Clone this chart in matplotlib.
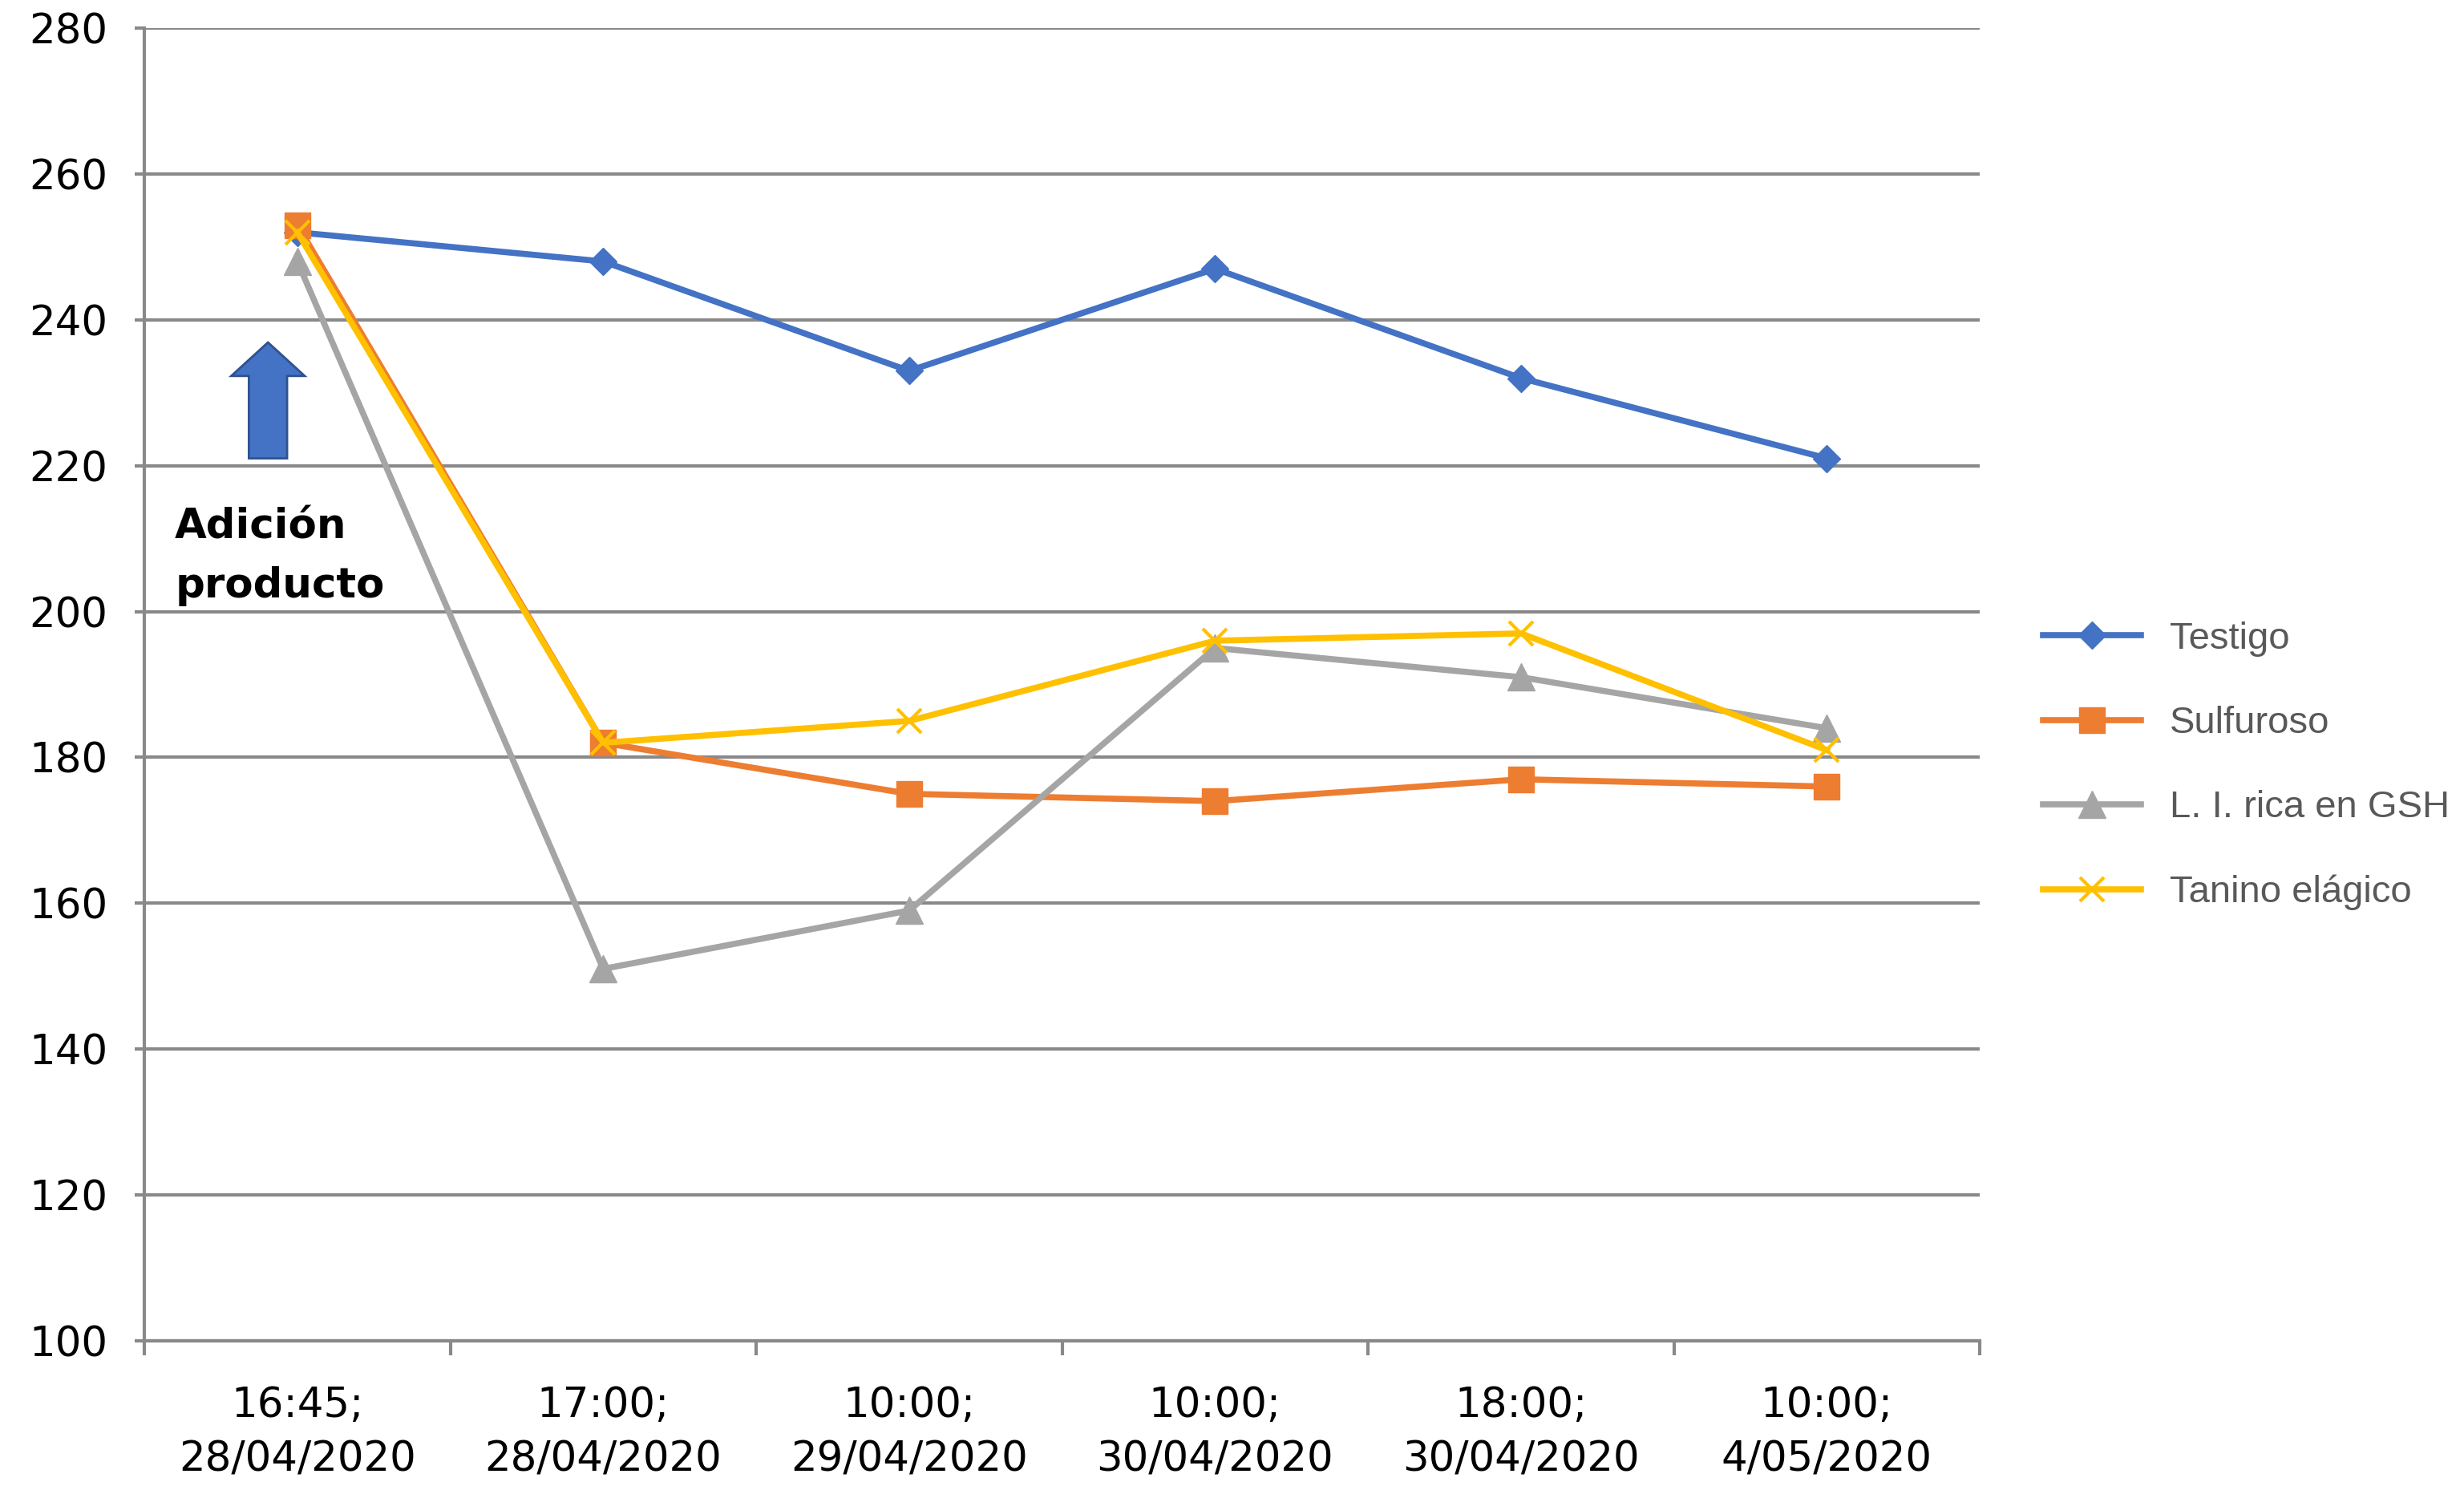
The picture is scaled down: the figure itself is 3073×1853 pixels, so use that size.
import numpy as np
import matplotlib
matplotlib.use("Agg")
import matplotlib.pyplot as plt
from matplotlib.patches import FancyArrow

# muestreos
fechas = ["16:45;\n28/04/2020", "17:00;\n28/04/2020", "10:00;\n29/04/2020",
          "10:00;\n30/04/2020", "18:00;\n30/04/2020", "10:00;\n4/05/2020"]

testigo = [252, 248, 233, 247, 232, 221]
sulfuroso = [253, 182, 175, 174, 177, 176]
li_gsh = [248, 151, 159, 195, 191, 184]
tanino = [252, 182, 185, 196, 197, 181]

series = [
    ("Testigo", testigo, "#4472C4", "D", 17),
    ("Sulfuroso", sulfuroso, "#ED7D31", "s", 23),
    ("L. I. rica en GSH", li_gsh, "#A5A5A5", "^", 24),
    ("Tanino elágico", tanino, "#FFC000", "x", 22),
]

gris = "#898989"

fig = plt.figure(figsize=(30.73, 18.53), dpi=100)
ax = fig.add_axes([0.0586, 0.0977, 0.7449, 0.8834])

x = np.arange(len(fechas))
for nombre, vals, color, mk, ms in series:
    if mk == "x":
        ax.plot(x, vals, color=color, lw=5.5, marker=mk, ms=ms, mew=3,
                mec=color, label=nombre, zorder=3)
    else:
        ax.plot(x, vals, color=color, lw=5.5, marker=mk, ms=ms,
                mec=color, mfc=color, label=nombre, zorder=3)

ax.set_xlim(-0.5, len(fechas) - 0.5)
ax.set_ylim(100, 280)
ax.set_yticks(np.arange(100, 281, 20))
ax.set_xticks(x)
ax.set_xticklabels(fechas, linespacing=1.45)
ax.set_xticks(np.arange(-0.5, len(fechas)), minor=True)

ax.grid(axis="y", color=gris, lw=3)
ax.set_axisbelow(True)
for s in ["top", "right"]:
    ax.spines[s].set_visible(False)
for s in ["left", "bottom"]:
    ax.spines[s].set_color(gris)
    ax.spines[s].set_linewidth(3)

ax.tick_params(axis="y", length=9, width=3, color=gris, pad=24,
               labelsize=37, labelcolor="black")
ax.tick_params(axis="x", which="major", length=0, pad=40,
               labelsize=37, labelcolor="black")
ax.tick_params(axis="x", which="minor", length=13, width=3, color=gris)

# flecha de adición
ax.add_patch(FancyArrow(-0.096, 221, 0, 15.9, width=0.125, head_width=0.24,
                        head_length=4.6, length_includes_head=True,
                        fc="#4472C4", ec="#2F528F", lw=2, zorder=4))
ax.text(-0.4, 214.3, "Adición\nproducto", fontsize=37, fontweight="bold",
        ha="left", va="top", linespacing=1.6, color="black")

leg = fig.legend(loc="center left", bbox_to_anchor=(0.829, 0.4846),
                 frameon=False, borderpad=0, borderaxespad=0,
                 handlelength=2.6, handletextpad=0.75, labelspacing=1.3,
                 prop={"family": "Liberation Sans", "size": 34})
for t in leg.get_texts():
    t.set_color("#595959")

fig.savefig("out.png", dpi=100)
